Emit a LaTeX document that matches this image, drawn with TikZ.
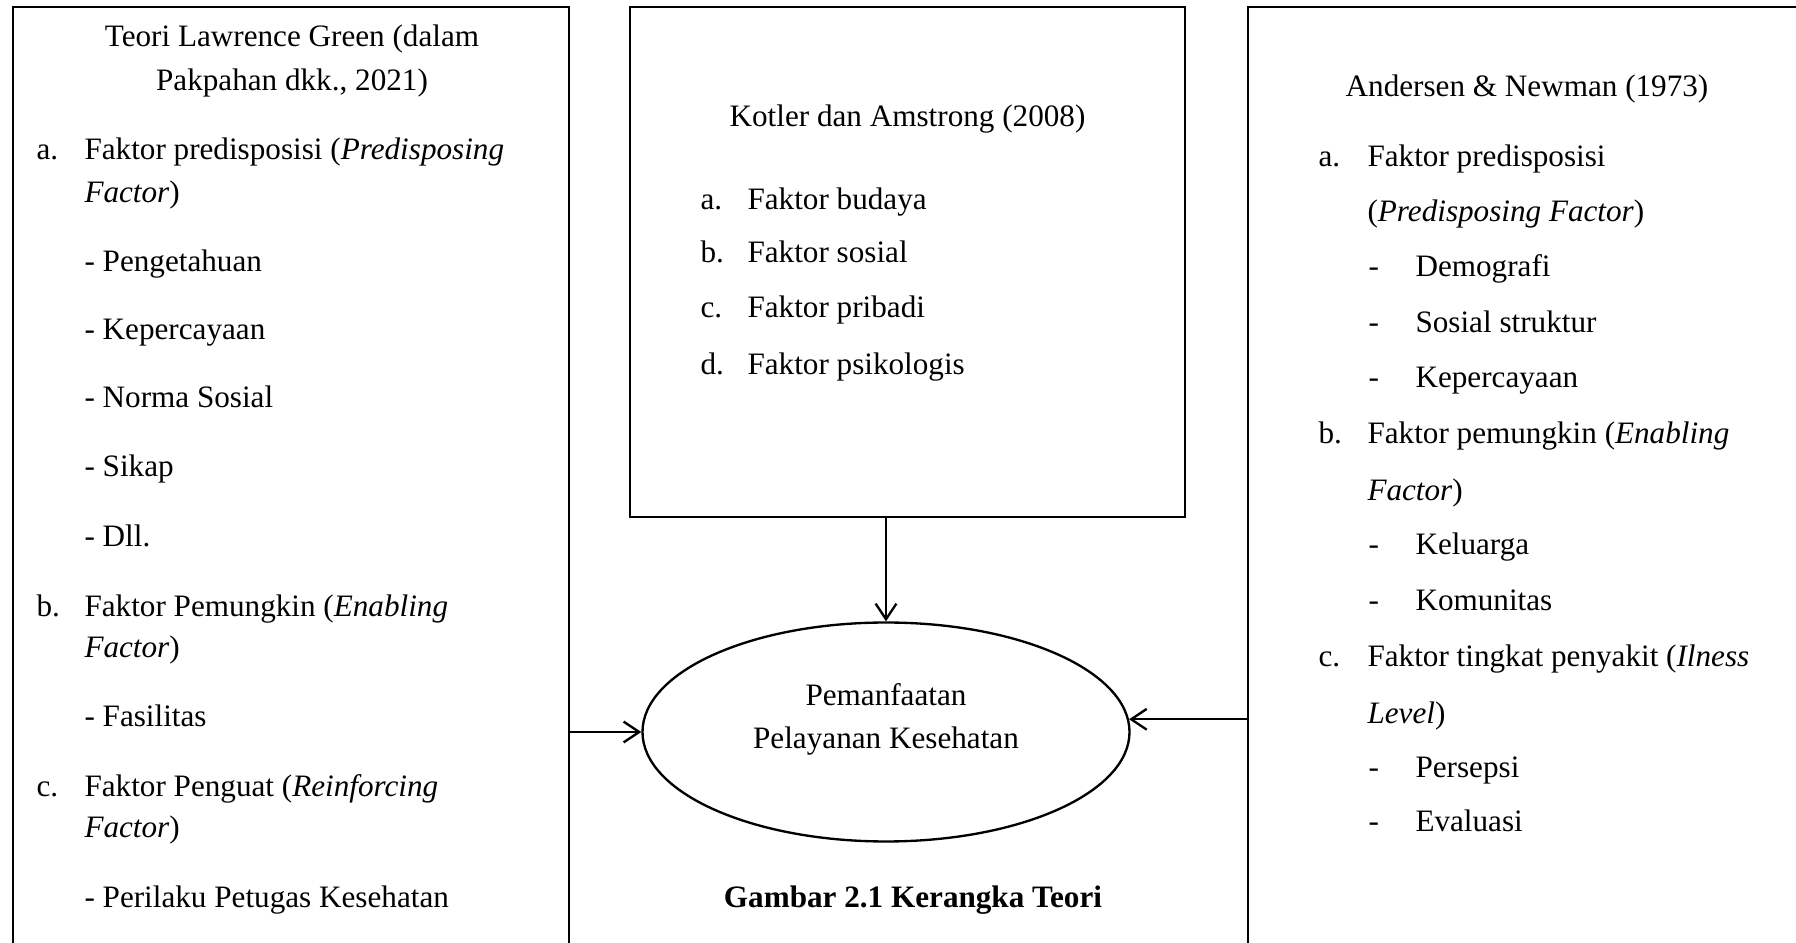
\documentclass[tikz,border=0pt]{standalone}
\usepackage{fontspec}
\setmainfont{Liberation Serif}
\usetikzlibrary{arrows.meta,shapes.geometric,fit}

\begin{document}
\begin{tikzpicture}[x=0.385pt,y=-0.385pt,>={Straight Barb[length=6pt,width=8pt]},
    frame/.style={draw,line width=0.9pt,inner sep=0pt},
    txt/.style={anchor=base west,inner sep=0pt,font=\fontsize{12}{14}\selectfont}]
\useasboundingbox (0,0) rectangle (1796,943);
\clip (0,0) rectangle (1796,943);

% boxes
\node[frame,fit={(13,7) (569,990)}] (green) {};
\node[frame,fit={(630,7) (1185,517)}] (kotler) {};
\node[frame,fit={(1248,7) (1830,990)}] (andersen) {};
\node[frame,ellipse,minimum width=187.5pt,minimum height=84.3pt] (util) at (886,732) {};

% left box
\foreach \y/\t [count=\i] in {47/{Teori Lawrence Green (dalam},91/{Pakpahan dkk., 2021)}}
{
    \node[txt,anchor=base] (gt\i) at (292,\y) {\t};
}
\foreach \y/\l [count=\i] in {160/a.,617/b.,797/c.}
{
    \node[txt] (gl\i) at (36,\y) {\l};
}
\foreach \y/\t [count=\i] in {160/{Faktor predisposisi (\textit{Predisposing}},203/{\textit{Factor})},
    272/{- Pengetahuan},340/{- Kepercayaan},408/{- Norma Sosial},477/{- Sikap},547/{- Dll.},
    617/{Faktor Pemungkin (\textit{Enabling}},658/{\textit{Factor})},727/{- Fasilitas},
    797/{Faktor Penguat (\textit{Reinforcing}},838/{\textit{Factor})},908/{- Perilaku Petugas Kesehatan}}
{
    \node[txt] (g\i) at (84,\y) {\t};
}

% middle box
\node[txt,anchor=base] (kt) at (kotler.center |- 0,127) {Kotler dan Amstrong (2008)};
\foreach \y/\l/\t [count=\i] in {210/a./budaya,263/b./sosial,318/c./pribadi,375/d./psikologis}
{
    \node[txt] (kl\i) at (700,\y) {\l};
    \node[txt] (k\i) at (747,\y) {Faktor \t};
}

% right box
\node[txt,anchor=base] (at) at (1527,97) {Andersen \& Newman (1973)};
\foreach \y/\l [count=\i] in {167/a.,444/b.,667/c.}
{
    \node[txt] (al\i) at (1318,\y) {\l};
}
\foreach \y/\t [count=\i] in {167/{Faktor predisposisi},222/{(\textit{Predisposing Factor})},
    444/{Faktor pemungkin (\textit{Enabling}},501/{\textit{Factor})},
    667/{Faktor tingkat penyakit (\textit{Ilness}},724/{\textit{Level})}}
{
    \node[txt] (a\i) at (1367,\y) {\t};
}
\foreach \y/\t [count=\i] in {277/Demografi,333/{Sosial struktur},388/Kepercayaan,
    555/Keluarga,611/Komunitas,778/Persepsi,832/Evaluasi}
{
    \node[txt] (ad\i) at (1368,\y) {-};
    \node[txt] (ai\i) at (1415,\y) {\t};
}

% ellipse text and caption
\node[inner sep=0pt,align=center,font=\fontsize{12}{16.6}\selectfont] (ut) at (886,719)
    {Pemanfaatan\\Pelayanan Kesehatan};
\node[txt,anchor=base,font=\fontsize{12}{14}\selectfont\bfseries] (cap) at (913,908)
    {Gambar 2.1 Kerangka Teori};

% arrows
\draw[->,line width=0.9pt] (util.north |- kotler.south) -- (util.north);
\draw[->,line width=0.9pt] (green.east |- util.west) -- (util.west);
\draw[->,line width=0.9pt] (andersen.west |- util.3) -- (util.3);
\end{tikzpicture}
\end{document}
